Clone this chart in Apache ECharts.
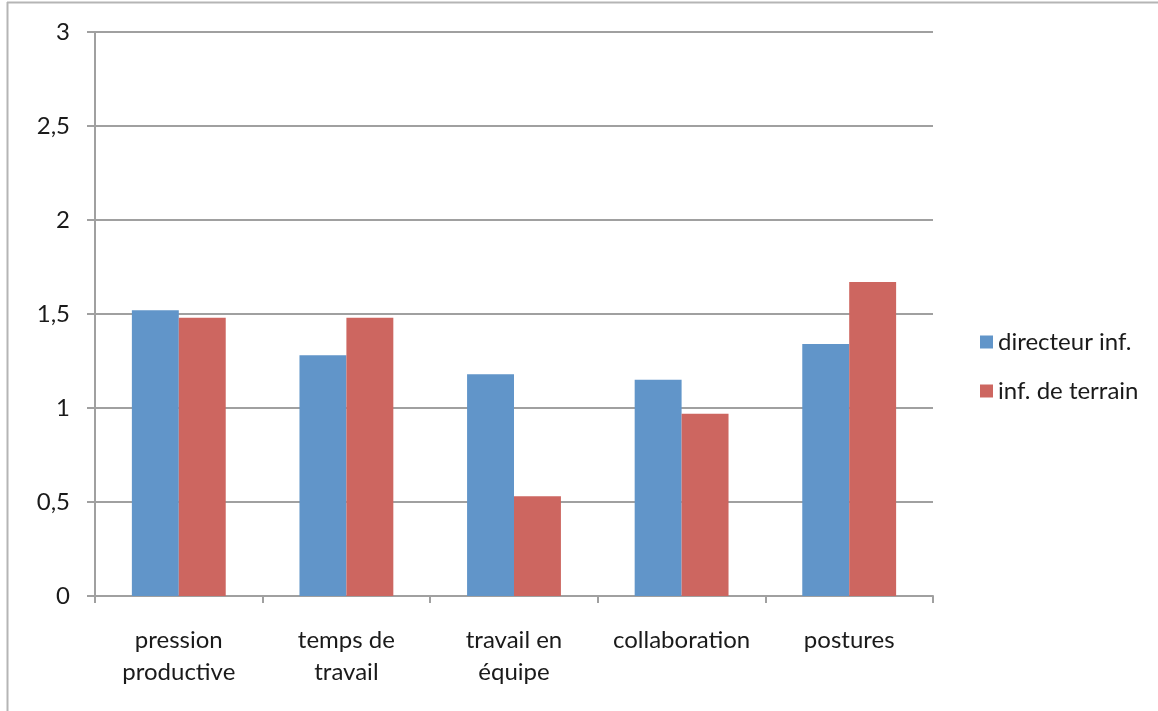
<!DOCTYPE html>
<html>
<head>
<meta charset="utf-8">
<script src="https://cdn.jsdelivr.net/npm/echarts@6/dist/echarts.min.js"></script>
<style>
  html, body { margin: 0; padding: 0; background: #fff; }
  #chart { width: 1158px; height: 711px; }
</style>
</head>
<body>
<div id="chart"></div>
<script>
// Categories on the x axis
const categories = ['pression\nproductive', 'temps de\ntravail', 'travail en\néquipe', 'collaboration', 'postures'];
// Mean scores per group
const directeurInf = [1.52, 1.28, 1.18, 1.15, 1.34];
const infDeTerrain = [1.48, 1.48, 0.53, 0.97, 1.67];
const seriesNames = ['directeur inf.', 'inf. de terrain'];

const FONT = 'Lato, "Open Sans", sans-serif';
const FS = 24;
const chart = echarts.init(document.getElementById('chart'), null, { renderer: 'canvas' });

chart.setOption({
  animation: false,
  backgroundColor: '#ffffff',
  textStyle: { fontFamily: FONT },
  graphic: [
    { type: 'line', shape: { x1: 7, y1: 2.5, x2: 1158, y2: 2.5 }, style: { stroke: '#b5b5b5', lineWidth: 2 } },
    { type: 'line', shape: { x1: 7.5, y1: 2, x2: 7.5, y2: 711 }, style: { stroke: '#b5b5b5', lineWidth: 2 } }
  ],
  grid: { left: 95, right: 225, top: 32, bottom: 115, containLabel: false },
  legend: {
    orient: 'vertical',
    left: 975,
    top: 325,
    itemWidth: 13,
    itemHeight: 13,
    itemGap: 25,
    icon: 'rect',
    textStyle: { fontFamily: FONT, fontSize: FS, color: '#1a1a1a' },
    data: seriesNames
  },
  xAxis: {
    type: 'category',
    data: categories,
    axisLine: { lineStyle: { color: '#a0a0a0', width: 2 } },
    axisTick: { show: true, length: 7, lineStyle: { color: '#a0a0a0', width: 2 } },
    axisLabel: {
      fontFamily: FONT, fontSize: FS, color: '#1a1a1a',
      lineHeight: 32, margin: 28, interval: 0
    },
    splitLine: { show: false }
  },
  yAxis: {
    type: 'value',
    min: 0, max: 3, interval: 0.5,
    axisLine: { show: true, lineStyle: { color: '#a0a0a0', width: 2 } },
    axisTick: { show: true, length: 8, lineStyle: { color: '#a0a0a0', width: 2 } },
    axisLabel: {
      fontFamily: FONT, fontSize: FS, color: '#1a1a1a', margin: 25,
      formatter: v => String(v).replace('.', ',')
    },
    splitLine: { show: true, lineStyle: { color: '#a0a0a0', width: 2 } }
  },
  series: [
    {
      name: seriesNames[0], type: 'bar', data: directeurInf,
      barGap: '0%', barCategoryGap: '44%',
      itemStyle: { color: '#6195c9' }
    },
    {
      name: seriesNames[1], type: 'bar', data: infDeTerrain,
      barGap: '0%', barCategoryGap: '44%',
      itemStyle: { color: '#cd6660' }
    }
  ]
});
</script>
</body>
</html>
